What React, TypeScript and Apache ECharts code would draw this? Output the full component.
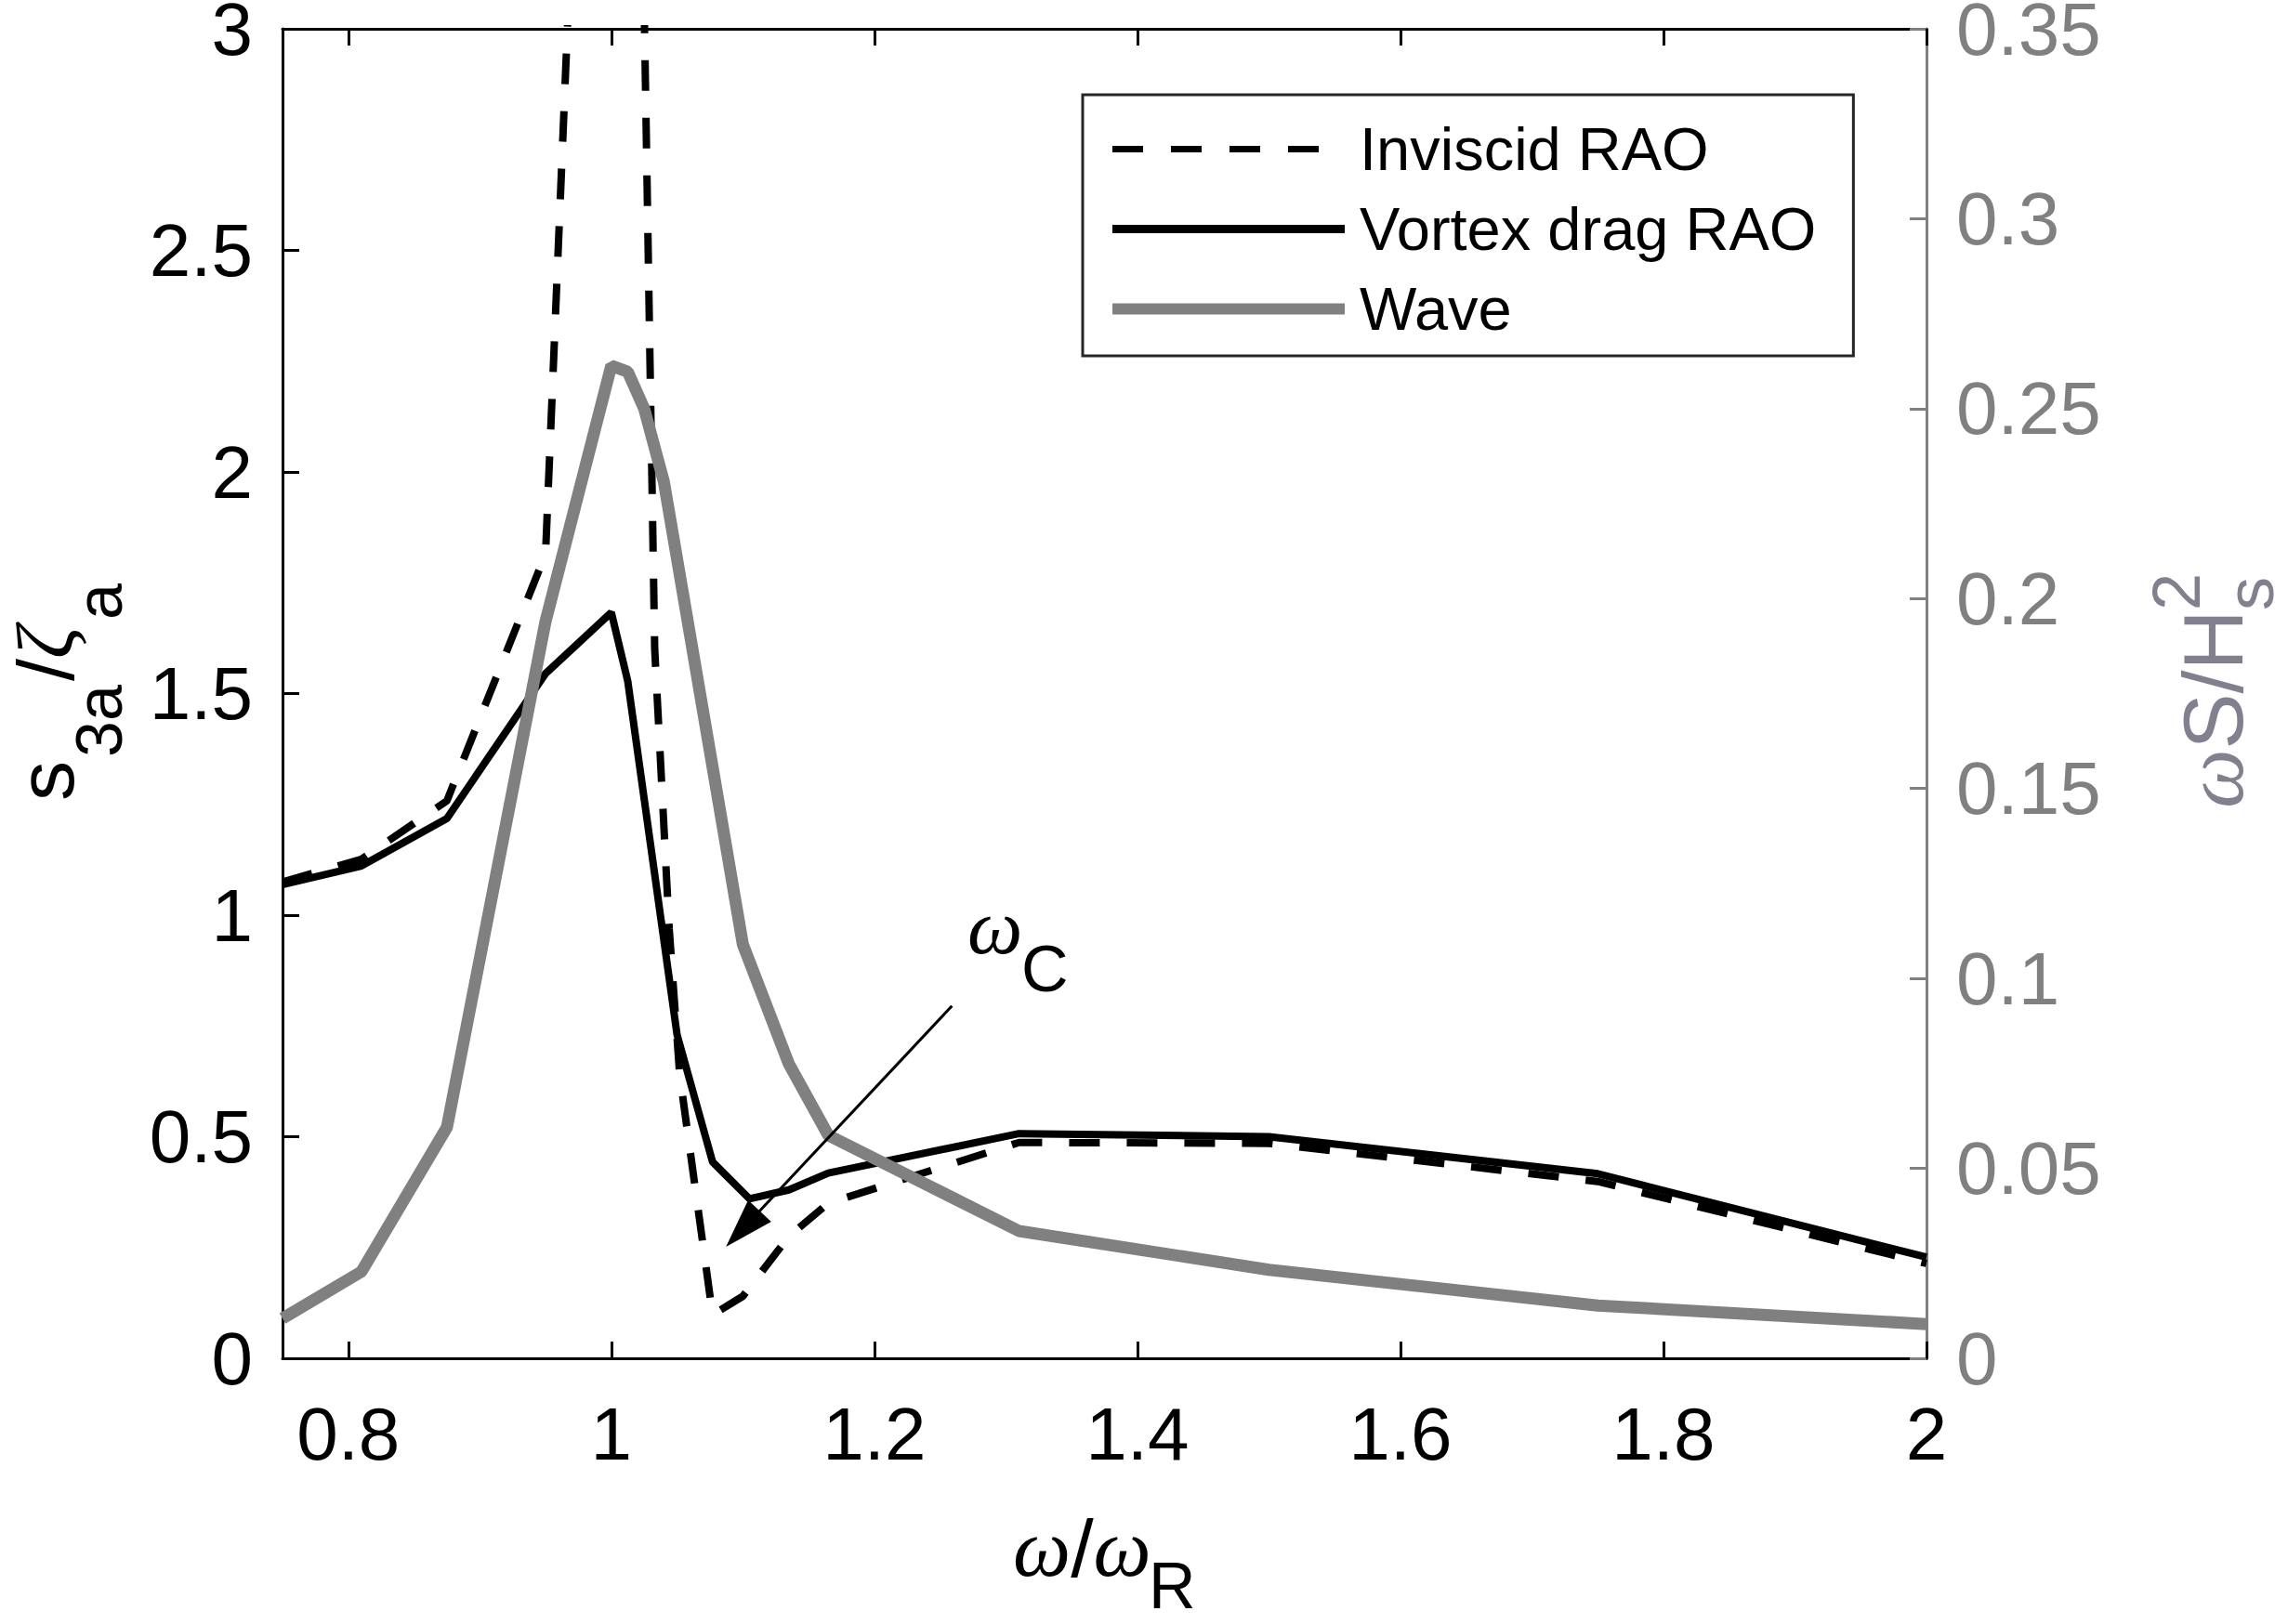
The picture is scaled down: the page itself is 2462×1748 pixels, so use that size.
import React, { useEffect, useRef } from 'react';
import * as echarts from 'echarts';

const FONT = "'Liberation Sans', Arial, Helvetica, sans-serif";
const GREEK = "'Liberation Serif', 'DejaVu Serif', serif";

// ω/ωR values and responses
const inviscidX = [0.75, 0.81, 0.875, 0.95, 0.975, 1.0, 1.025, 1.033, 1.044, 1.052, 1.077, 1.1, 1.135, 1.165, 1.31, 1.5, 1.75, 2.0];
const inviscidY = [1.075, 1.126, 1.258, 1.815, 3.6, 12, 3.05, 1.6, 0.97, 0.64, 0.098, 0.14, 0.275, 0.35, 0.487, 0.485, 0.399, 0.214];

const vortexX = [0.75, 0.81, 0.875, 0.95, 1.0, 1.0125, 1.05, 1.077, 1.105, 1.135, 1.165, 1.31, 1.5, 1.75, 2.0];
const vortexY = [1.069, 1.111, 1.218, 1.545, 1.683, 1.528, 0.73, 0.443, 0.36, 0.38, 0.418, 0.507, 0.5, 0.4165, 0.228];

const waveX = [0.75, 0.81, 0.875, 0.95, 1.0, 1.0125, 1.025, 1.04, 1.1, 1.135, 1.165, 1.31, 1.5, 1.75, 2.0];
const waveY = [0.0105, 0.0228, 0.0608, 0.194, 0.2613, 0.2597, 0.25, 0.2307, 0.109, 0.0775, 0.0587, 0.0335, 0.0233, 0.0139, 0.009];

// annotation arrow (data coordinates, left axis)
const arrowStart = [1.259, 0.795];
const arrowHead = [1.1, 0.292];

const seriesNames = ['Inviscid RAO', 'Vortex drag RAO', 'Wave'];

const xMin = 0.75;
const xMax = 2;
const yLeftMax = 3;
const yLeftStep = 0.5;
const yRightMax = 0.35;
const yRightStep = 0.05;

function pairs(xs: number[], ys: number[]) {
  return xs.map((x, i) => [x, ys[i]]);
}

export default function App() {
  const ref = useRef<HTMLDivElement>(null);

  useEffect(() => {
    document.body.style.margin = '0';
    const chart = echarts.init(ref.current as HTMLDivElement, undefined, { renderer: 'svg' });

    const tickLabel = { fontSize: 80, fontFamily: FONT, lineHeight: 60 };
    const hiddenSymbol = { opacity: 0, borderWidth: 0 };
    const LX = 16; // left axis name offset

    const option: any = {
      animation: false,
      backgroundColor: '#ffffff',
      grid: {
        left: 304,
        right: 389,
        top: 31,
        bottom: 286,
        containLabel: false,
        outerBoundsMode: 'none',
      },
      legend: {
        orient: 'vertical',
        left: 1165,
        top: 102,
        padding: [26, 40, 18, 26],
        itemGap: 21,
        itemWidth: 250,
        itemHeight: 20,
        borderColor: '#262626',
        borderWidth: 3,
        borderRadius: 0,
        backgroundColor: '#ffffff',
        selectedMode: false,
        itemStyle: hiddenSymbol,
        textStyle: { fontSize: 65, fontFamily: FONT, color: '#000', padding: [0, 0, 0, 11] },
        data: [
          { name: seriesNames[0], lineStyle: { width: 7, type: [33, 30] }, itemStyle: hiddenSymbol },
          { name: seriesNames[1], lineStyle: { width: 9 }, itemStyle: hiddenSymbol },
          { name: seriesNames[2], lineStyle: { width: 12 }, itemStyle: hiddenSymbol },
        ],
      },
      xAxis: [
        {
          type: 'value',
          position: 'bottom',
          min: xMin,
          max: xMax,
          splitNumber: 6,
          splitLine: { show: false },
          axisLine: { show: true, onZero: false, lineStyle: { color: '#000', width: 3 } },
          axisTick: { show: true, inside: true, length: 18, lineStyle: { color: '#000', width: 3 } },
          axisLabel: { ...tickLabel, color: '#000', margin: 51, showMinLabel: false },
        },
        {
          type: 'value',
          position: 'top',
          min: xMin,
          max: xMax,
          splitNumber: 6,
          splitLine: { show: false },
          axisLine: { show: true, onZero: false, lineStyle: { color: '#000', width: 3 } },
          axisTick: { show: true, inside: true, length: 18, lineStyle: { color: '#000', width: 3 } },
          axisLabel: { show: false },
        },
      ],
      yAxis: [
        {
          type: 'value',
          position: 'left',
          min: 0,
          max: yLeftMax,
          interval: yLeftStep,
          splitLine: { show: false },
          axisLine: { show: true, onZero: false, lineStyle: { color: '#000', width: 3 } },
          axisTick: { show: true, inside: true, length: 18, lineStyle: { color: '#000', width: 3 } },
          axisLabel: { ...tickLabel, color: '#000', margin: 32 },
        },
        {
          type: 'value',
          position: 'right',
          min: 0,
          max: yRightMax,
          interval: yRightStep,
          splitLine: { show: false },
          axisLine: { show: true, onZero: false, lineStyle: { color: '#808080', width: 3 } },
          axisTick: { show: true, inside: true, length: 18, lineStyle: { color: '#808080', width: 3 } },
          axisLabel: { ...tickLabel, color: '#808080', margin: 32 },
        },
      ],
      series: [
        {
          name: seriesNames[0],
          type: 'line',
          xAxisIndex: 0,
          yAxisIndex: 0,
          data: pairs(inviscidX, inviscidY),
          symbol: 'none',
          showSymbol: false,
          clip: true,
          z: 2,
          itemStyle: { color: '#000' },
          lineStyle: { color: '#000', width: 8, type: [33, 29] },
        },
        {
          name: seriesNames[1],
          type: 'line',
          xAxisIndex: 0,
          yAxisIndex: 0,
          data: pairs(vortexX, vortexY),
          symbol: 'none',
          showSymbol: false,
          clip: true,
          z: 2,
          itemStyle: { color: '#000' },
          lineStyle: { color: '#000', width: 8, type: 'solid' },
          markLine: {
            silent: true,
            animation: false,
            symbol: ['none', 'triangle'],
            lineStyle: { color: '#000', width: 3, type: 'solid' },
            label: { show: false },
            emphasis: { disabled: true },
            data: [
              [
                { coord: arrowStart, symbol: 'none' },
                { coord: arrowHead, symbol: 'triangle', symbolSize: [34, 53] },
              ],
            ],
          },
        },
        {
          name: seriesNames[2],
          type: 'line',
          xAxisIndex: 0,
          yAxisIndex: 1,
          data: pairs(waveX, waveY),
          symbol: 'none',
          showSymbol: false,
          clip: true,
          z: 3,
          itemStyle: { color: '#808080' },
          lineStyle: { color: '#808080', width: 13, type: 'solid' },
        },
      ],
      graphic: [
        // left axis name: s_3a / ζ_a (rotated)
        {
          type: 'group',
          x: 0,
          y: 862,
          rotation: Math.PI / 2,
          z: 10,
          children: [
            { type: 'text', x: 0, y: 33 + LX, style: { text: 's', fontSize: 86, lineHeight: 64, fontFamily: FONT, fill: '#000', align: 'left', verticalAlign: 'middle' } },
            { type: 'text', x: 47, y: 91 + LX, style: { text: '3a', fontSize: 70, lineHeight: 56, fontFamily: FONT, fill: '#000', align: 'left', verticalAlign: 'middle' } },
            {
              type: 'text',
              x: 129,
              y: 33 + LX,
              style: {
                text: '{n|/}{g|ζ}',
                align: 'left',
                verticalAlign: 'middle',
                rich: {
                  n: { fontSize: 86, lineHeight: 64, fontFamily: FONT, fill: '#000' },
                  g: { fontSize: 86, lineHeight: 64, fontFamily: GREEK, fontStyle: 'italic', fill: '#000' },
                },
              },
            },
            { type: 'text', x: 195, y: 91 + LX, style: { text: 'a', fontSize: 70, lineHeight: 56, fontFamily: FONT, fill: '#000', align: 'left', verticalAlign: 'middle' } },
          ],
        },
        // right axis name: ωS/H_s^2 (rotated)
        {
          type: 'group',
          x: 0,
          y: 870,
          rotation: Math.PI / 2,
          z: 10,
          children: [
            {
              type: 'text',
              x: 0,
              y: 2382,
              style: {
                text: '{g|ω}{n|S/H}',
                align: 'left',
                verticalAlign: 'middle',
                rich: {
                  g: { fontSize: 90, lineHeight: 80, fontFamily: GREEK, fontStyle: 'italic', fill: '#80808f' },
                  n: { fontSize: 90, lineHeight: 80, fontFamily: FONT, fill: '#80808f' },
                },
              },
            },
            { type: 'text', x: 213, y: 2342, style: { text: '2', fontSize: 72, lineHeight: 56, fontFamily: FONT, fill: '#80808f', align: 'left', verticalAlign: 'middle' } },
            { type: 'text', x: 213, y: 2421, style: { text: 's', fontSize: 72, lineHeight: 50, fontFamily: FONT, fill: '#80808f', align: 'left', verticalAlign: 'middle' } },
          ],
        },
        // x axis name: ω/ω_R
        {
          type: 'text',
          x: 1090,
          y: 1666,
          z: 10,
          style: {
            text: '{g|ω}{n|/}{g|ω}',
            align: 'left',
            verticalAlign: 'middle',
            rich: {
              g: { fontSize: 88, lineHeight: 70, fontFamily: GREEK, fontStyle: 'italic', fill: '#000' },
              n: { fontSize: 88, lineHeight: 70, fontFamily: FONT, fill: '#000' },
            },
          },
        },
        { type: 'text', x: 1236, y: 1707, z: 10, style: { text: 'R', fontSize: 70, lineHeight: 50, fontFamily: FONT, fill: '#000', align: 'left', verticalAlign: 'middle' } },
        // annotation ω_C
        { type: 'text', x: 1041, y: 997, z: 10, style: { text: 'ω', fontSize: 84, lineHeight: 56, fontFamily: GREEK, fontStyle: 'italic', fill: '#000', align: 'left', verticalAlign: 'middle' } },
        { type: 'text', x: 1099, y: 1043, z: 10, style: { text: 'C', fontSize: 70, lineHeight: 50, fontFamily: FONT, fill: '#000', align: 'left', verticalAlign: 'middle' } },
      ],
    };

    chart.setOption(option);
    return () => chart.dispose();
  }, []);

  return <div ref={ref} style={{ width: 2462, height: 1748 }} />;
}
